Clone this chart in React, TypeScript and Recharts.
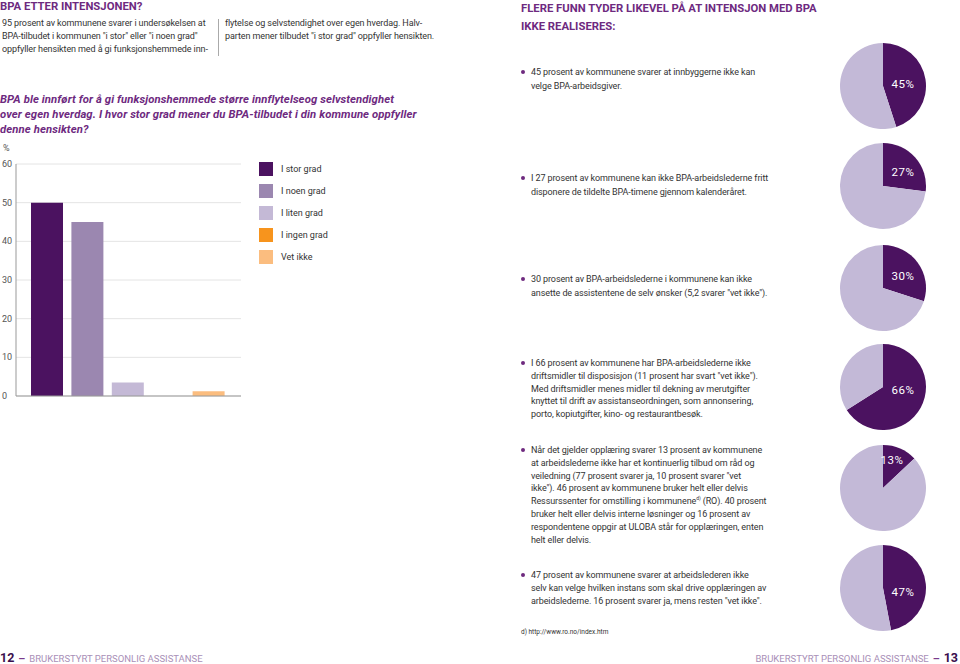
import React from 'react';
import { BarChart, Bar, XAxis, YAxis, CartesianGrid, Cell, PieChart, Pie } from 'recharts';

// bar chart: "I hvor stor grad ..." answers, percent
const answerLabels = ['I stor grad', 'I noen grad', 'I liten grad', 'I ingen grad', 'Vet ikke'];
const answerValues = [50, 45, 3.5, 0, 1.2];
const answerColors = ['#4b1260', '#9b87b0', '#c4b9d6', '#f7941d', '#fbbd7f'];
const yTicks = [0, 10, 20, 30, 40, 50, 60];

// pie charts on the right page, share of "not realised"
const pieValues = [45, 27, 30, 66, 13, 47];
const pieTops = [43, 143, 245, 344, 445, 545];
const pieLabelOffsets = [[20, -2], [20, -14], [20, -12], [20, 3], [9, -28], [20, 4]];

const PURPLE = '#4b1260';
const LILAC = '#c3b9d7';
const HEAD = '#6e2a7f';
const BODY = '#333';
const FONT = 'Roboto, "Noto Sans", sans-serif';

const barData = answerLabels.map((name, i) => ({ name, value: answerValues[i] }));

const YTick = (props: any) => (
  <text x={2} y={props.y} dy={3} textAnchor="start" fontSize={9} fill="#555" fontFamily={FONT}>
    {props.payload.value}
  </text>
);

const Lines = ({ lines, left, top, lh, style }: any) => (
  <div style={{ position: 'absolute', left, top, lineHeight: `${lh}px`, whiteSpace: 'nowrap', ...style }}>
    {lines.map((l: any, i: number) => (
      <div key={i} style={{ height: lh }}>{l}</div>
    ))}
  </div>
);

const Dot = ({ left, top }: any) => (
  <div style={{ position: 'absolute', left, top, width: 4, height: 4, borderRadius: 2, background: '#6e2a7f' }} />
);

const body = { fontFamily: FONT, fontSize: 9, color: BODY, letterSpacing: '-0.1px' };

const MiniPie = ({ value, top, offset }: any) => {
  const data = [
    { name: 'ja', value },
    { name: 'rest', value: 100 - value },
  ];
  const renderLabel = (p: any) =>
    p.index === 0 ? (
      <text x={p.cx + offset[0]} y={p.cy + offset[1]} dy={4} textAnchor="middle" fill="#fff" fontSize={11.5} fontFamily={FONT} letterSpacing={0.6}>
        {value}%
      </text>
    ) : null;
  return (
    <div style={{ position: 'absolute', left: 838, top: top - 1 }}>
      <PieChart width={90} height={90} margin={{ top: 0, right: 0, bottom: 0, left: 0 }}>
        <Pie
          data={data}
          dataKey="value"
          cx={45}
          cy={44}
          outerRadius={43}
          startAngle={90}
          endAngle={-270}
          stroke="none"
          label={renderLabel}
          labelLine={false}
          isAnimationActive={false}
        >
          <Cell fill={PURPLE} />
          <Cell fill={LILAC} />
        </Pie>
      </PieChart>
    </div>
  );
};

export default function App() {
  return (
    <div style={{ position: 'relative', width: 960, height: 664, background: '#fff', overflow: 'hidden', fontFamily: FONT }}>
      <style>{'body{margin:0}'}</style>

      {/* left page text */}
      <div style={{ position: 'absolute', left: 0, top: 0, fontSize: 11.3, fontWeight: 700, color: HEAD, whiteSpace: 'nowrap' }}>
        BPA ETTER INTENSJONEN?
      </div>
      <Lines
        left={2}
        top={17}
        lh={12.8}
        style={body}
        lines={[
          '95 prosent av kommunene svarer i undersøkelsen at',
          'BPA-tilbudet i kommunen "i stor" eller "i noen grad"',
          'oppfyller hensikten med å gi funksjonshemmede inn-',
        ]}
      />
      <div style={{ position: 'absolute', left: 218, top: 19, width: 1, height: 37, background: '#aaa' }} />
      <Lines
        left={225}
        top={17}
        lh={12.8}
        style={body}
        lines={['flytelse og selvstendighet over egen hverdag. Halv-', 'parten mener tilbudet "i stor grad" oppfyller hensikten.']}
      />
      <Lines
        left={0}
        top={92}
        lh={15}
        style={{ fontSize: 11.3, fontWeight: 700, fontStyle: 'italic', color: HEAD, letterSpacing: '0.1px' }}
        lines={[
          'BPA ble innført for å gi funksjonshemmede større innflytelseog selvstendighet',
          'over egen hverdag. I hvor stor grad mener du BPA-tilbudet i din kommune oppfyller',
          'denne hensikten?',
        ]}
      />

      {/* bar chart */}
      <div style={{ position: 'absolute', left: 3, top: 143, fontSize: 9, color: '#555' }}>%</div>
      <div style={{ position: 'absolute', left: 0, top: 150 }}>
        <BarChart width={250} height={256} data={barData} margin={{ top: 14, right: 9, bottom: 9, left: 0 }}>
          <CartesianGrid vertical={false} stroke="#e4e4e4" />
          <XAxis
            dataKey="name"
            height={1}
            tick={false}
            tickLine={false}
            axisLine={{ stroke: '#999' }}
            padding={{ left: 11, right: 12 }}
          />
          <YAxis
            width={16}
            domain={[0, 60]}
            ticks={yTicks}
            interval={0}
            tickLine={false}
            axisLine={{ stroke: '#999' }}
            tick={<YTick />}
          />
          <Bar dataKey="value" barSize={32} isAnimationActive={false}>
            {barData.map((d, i) => (
              <Cell key={d.name} fill={answerColors[i]} />
            ))}
          </Bar>
        </BarChart>
      </div>
      {answerLabels.map((name, i) => (
        <div key={name} style={{ position: 'absolute', left: 259, top: 162 + i * 22, display: 'flex', alignItems: 'center' }}>
          <div style={{ width: 14, height: 14, background: answerColors[i] }} />
          <span style={{ marginLeft: 8, fontSize: 9, color: BODY }}>{name}</span>
        </div>
      ))}

      {/* right page */}
      <Lines
        left={521}
        top={0}
        lh={18}
        style={{ fontSize: 11.3, fontWeight: 700, color: HEAD }}
        lines={['FLERE FUNN TYDER LIKEVEL PÅ AT INTENSJON MED BPA', 'IKKE REALISERES:']}
      />

      <Dot left={521} top={70} />
      <Lines left={531} top={66} lh={13.5} style={body} lines={['45 prosent av kommunene svarer at innbyggerne ikke kan', 'velge BPA-arbeidsgiver.']} />

      <Dot left={521} top={176} />
      <Lines
        left={531}
        top={172}
        lh={13.5}
        style={body}
        lines={['I 27 prosent av kommunene kan ikke BPA-arbeidslederne fritt', 'disponere de tildelte BPA-timene gjennom kalenderåret.']}
      />

      <Dot left={521} top={277} />
      <Lines
        left={531}
        top={273}
        lh={13.5}
        style={body}
        lines={['30 prosent av BPA-arbeidslederne i kommunene kan ikke', 'ansette de assistentene de selv ønsker (5,2 svarer "vet ikke").']}
      />

      <Dot left={521} top={361} />
      <Lines
        left={531}
        top={357}
        lh={12.8}
        style={body}
        lines={[
          'I 66 prosent av kommunene har BPA-arbeidslederne ikke',
          'driftsmidler til disposisjon (11 prosent har svart "vet ikke").',
          'Med driftsmidler menes midler til dekning av merutgifter',
          'knyttet til drift av assistanseordningen, som annonsering,',
          'porto, kopiutgifter, kino- og restaurantbesøk.',
        ]}
      />

      <Dot left={521} top={448} />
      <Lines
        left={531}
        top={444}
        lh={12.8}
        style={body}
        lines={[
          'Når det gjelder opplæring svarer 13 prosent av kommunene',
          'at arbeidslederne ikke har et kontinuerlig tilbud om råd og',
          'veiledning (77 prosent svarer ja, 10 prosent svarer "vet',
          'ikke"). 46 prosent av kommunene bruker helt eller delvis',
          <span>
            Ressurssenter for omstilling i kommunene
            <span style={{ fontSize: 5, lineHeight: 0, position: 'relative', top: -4 }}>d)</span> (RO). 40 prosent
          </span>,
          'bruker helt eller delvis interne løsninger og 16 prosent av',
          'respondentene oppgir at ULOBA står for opplæringen, enten',
          'helt eller delvis.',
        ]}
      />

      <Dot left={521} top={573} />
      <Lines
        left={531}
        top={569}
        lh={12.8}
        style={body}
        lines={[
          '47 prosent av kommunene svarer at arbeidslederen ikke',
          'selv kan velge hvilken instans som skal drive opplæringen av',
          'arbeidslederne. 16 prosent svarer ja, mens resten "vet ikke".',
        ]}
      />
      <div style={{ position: 'absolute', left: 521, top: 628, fontSize: 6.5, color: BODY }}>d) http://www.ro.no/index.htm</div>

      {pieValues.map((v, i) => (
        <MiniPie key={i} value={v} top={pieTops[i]} offset={pieLabelOffsets[i]} />
      ))}

      {/* footers */}
      <div style={{ position: 'absolute', left: 0, top: 650, whiteSpace: 'nowrap', display: 'flex', alignItems: 'baseline' }}>
        <span style={{ fontSize: 12.5, fontWeight: 700, color: '#3a0e4d' }}>12</span>
        <span style={{ fontSize: 11, fontWeight: 700, color: '#7a3a8c', margin: '0 4px' }}>–</span>
        <span style={{ fontSize: 9.5, color: '#a98fb7' }}>BRUKERSTYRT PERSONLIG ASSISTANSE</span>
      </div>
      <div style={{ position: 'absolute', right: 2, top: 650, whiteSpace: 'nowrap', display: 'flex', alignItems: 'baseline' }}>
        <span style={{ fontSize: 9.5, color: '#a98fb7' }}>BRUKERSTYRT PERSONLIG ASSISTANSE</span>
        <span style={{ fontSize: 11, fontWeight: 700, color: '#7a3a8c', margin: '0 4px' }}>–</span>
        <span style={{ fontSize: 12.5, fontWeight: 700, color: '#3a0e4d' }}>13</span>
      </div>
    </div>
  );
}
